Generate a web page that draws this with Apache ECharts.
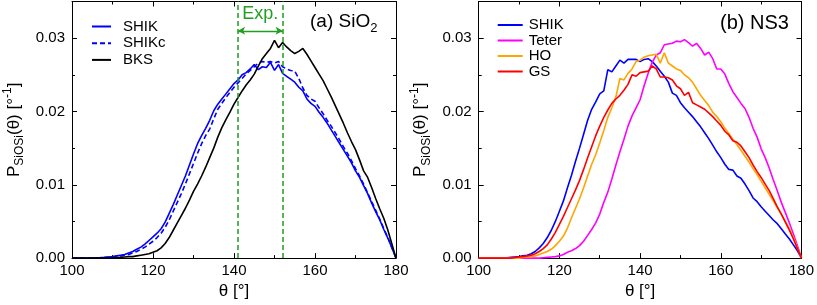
<!DOCTYPE html>
<html><head><meta charset="utf-8">
<script src="https://cdn.jsdelivr.net/npm/echarts@6/dist/echarts.min.js"></script>
<style>html,body{margin:0;padding:0;background:#fff}#c{width:817px;height:305px}</style>
</head><body><div id="c"></div>
<script>
// ---- data ----
const theta = [100,101,102,103,104,105,106,107,108,109,110,111,112,113,114,115,116,117,118,119,120,121,122,123,124,125,126,127,128,129,130,131,132,133,134,135,136,137,138,139,140,141,142,143,144,145,146,147,148,149,150,151,152,153,154,155,156,157,158,159,160,161,162,163,164,165,166,167,168,169,170,171,172,173,174,175,176,177,178,179,180];
// (a) SiO2
const sio2_SHIK = [0,0,0,0,0,0.00002,0.00004,0.00006,0.0001,0.00015,0.0002,0.0003,0.0004,0.0005,0.0007,0.0009,0.0012,0.0015,0.0019,0.0024,0.0029,0.0034,0.0040,0.0049,0.0061,0.0073,0.0086,0.0099,0.0112,0.0127,0.0142,0.0156,0.0167,0.0177,0.0188,0.0201,0.0210,0.0217,0.0224,0.0231,0.0238,0.0243,0.0250,0.0253,0.0258,0.0264,0.0257,0.0261,0.0260,0.0267,0.0256,0.0264,0.0252,0.0248,0.0244,0.0240,0.0233,0.0228,0.0217,0.0211,0.0207,0.0199,0.0192,0.0184,0.0175,0.0166,0.0157,0.0148,0.0139,0.0130,0.0119,0.0110,0.0099,0.0088,0.0075,0.0063,0.0052,0.0039,0.0027,0.0014,0];
const sio2_SHIKc = [0,0,0,0,0,0.00001,0.00002,0.00004,0.00006,0.0001,0.00014,0.0002,0.0003,0.0004,0.0005,0.0007,0.0009,0.0012,0.0015,0.0019,0.0023,0.0028,0.0034,0.0042,0.0052,0.0064,0.0076,0.0088,0.0101,0.0115,0.0129,0.0143,0.0156,0.0167,0.0176,0.0190,0.0203,0.0211,0.0219,0.0226,0.0233,0.0239,0.0245,0.0251,0.0256,0.0261,0.0266,0.0268,0.0267,0.0268,0.0266,0.0268,0.0261,0.0258,0.0256,0.0255,0.0245,0.0232,0.0222,0.0217,0.0214,0.0205,0.0197,0.0188,0.0180,0.0171,0.0162,0.0152,0.0143,0.0133,0.0122,0.0112,0.0101,0.0089,0.0077,0.0065,0.0053,0.0040,0.0028,0.0014,0];
const sio2_BKS = [0,0,0,0,0,0,0,0,0,0,0.00003,0.00006,0.0001,0.00015,0.0002,0.0002,0.0003,0.0004,0.0005,0.0006,0.0008,0.0010,0.0014,0.0020,0.0028,0.0038,0.0048,0.0058,0.0068,0.0079,0.0091,0.0101,0.0112,0.0124,0.0137,0.0150,0.0165,0.0178,0.0189,0.0199,0.0210,0.0219,0.0228,0.0236,0.0243,0.0251,0.0262,0.0272,0.0279,0.0286,0.0297,0.0287,0.0294,0.0288,0.0283,0.0279,0.0282,0.0286,0.0278,0.0269,0.0260,0.0251,0.0242,0.0231,0.0220,0.0208,0.0196,0.0184,0.0171,0.0159,0.0148,0.0134,0.0119,0.0110,0.0096,0.0081,0.0067,0.0054,0.0038,0.0019,0];
// (b) NS3
const ns3_SHIK = [0,0,0,0,0,0,0.00003,0.00005,0.0001,0.00015,0.0002,0.0003,0.0004,0.0006,0.0009,0.0014,0.0020,0.0028,0.0038,0.0050,0.0064,0.0078,0.0096,0.0113,0.0132,0.0150,0.0169,0.0188,0.0203,0.0213,0.0224,0.0228,0.0257,0.0254,0.0262,0.0270,0.0266,0.0271,0.0271,0.0271,0.0268,0.0271,0.0272,0.0268,0.0262,0.0255,0.0248,0.0240,0.0225,0.0222,0.0212,0.0205,0.0199,0.0193,0.0186,0.0179,0.0171,0.0163,0.0154,0.0145,0.0137,0.0128,0.0121,0.0120,0.0112,0.0109,0.0101,0.0092,0.0082,0.0077,0.0070,0.0064,0.0058,0.0052,0.0047,0.0040,0.0033,0.0026,0.0018,0.0010,0];
const ns3_Teter = [0,0,0,0,0,0,0,0,0,0,0,0,0,0,0,0,0.00005,0.0001,0.00015,0.0002,0.0003,0.0005,0.0008,0.0010,0.0013,0.0017,0.0023,0.0031,0.0039,0.0048,0.0060,0.0076,0.0090,0.0108,0.0127,0.0145,0.0162,0.0180,0.0194,0.0205,0.0216,0.0235,0.0252,0.0267,0.0277,0.0280,0.0291,0.0292,0.0293,0.0296,0.0295,0.0298,0.0294,0.0289,0.0293,0.0286,0.0277,0.0281,0.0272,0.0258,0.0258,0.0251,0.0238,0.0227,0.0219,0.0211,0.0204,0.0192,0.0177,0.0165,0.0149,0.0137,0.0123,0.0107,0.0092,0.0076,0.0062,0.0048,0.0033,0.0017,0];
const ns3_HO = [0,0,0,0,0,0,0,0,0,0,0,0.0001,0.0002,0.0002,0.0003,0.0005,0.0007,0.0009,0.0012,0.0017,0.0023,0.0030,0.0041,0.0055,0.0068,0.0081,0.0096,0.0112,0.0128,0.0141,0.0157,0.0174,0.0192,0.0205,0.0220,0.0245,0.0243,0.0252,0.0258,0.0268,0.0270,0.0274,0.0276,0.0277,0.0278,0.0266,0.0280,0.0266,0.0262,0.0258,0.0256,0.0250,0.0246,0.0240,0.0231,0.0222,0.0215,0.0208,0.0199,0.0193,0.0186,0.0177,0.0170,0.0162,0.0155,0.0147,0.0139,0.0131,0.0122,0.0114,0.0105,0.0096,0.0087,0.0078,0.0069,0.0060,0.0050,0.0040,0.0028,0.0014,0];
const ns3_GS = [0,0,0,0,0,0,0,0,0,0.0001,0.00015,0.0002,0.0003,0.0004,0.0006,0.0009,0.0013,0.0018,0.0026,0.0035,0.0046,0.0057,0.0069,0.0081,0.0093,0.0106,0.0121,0.0137,0.0152,0.0167,0.0180,0.0192,0.0202,0.0211,0.0217,0.0222,0.0229,0.0237,0.0250,0.0248,0.0253,0.0254,0.0255,0.0262,0.0258,0.0247,0.0247,0.0246,0.0243,0.0235,0.0231,0.0222,0.0226,0.0212,0.0209,0.0206,0.0203,0.0198,0.0193,0.0187,0.0181,0.0173,0.0168,0.0160,0.0158,0.0153,0.0145,0.0137,0.0127,0.0118,0.0110,0.0101,0.0092,0.0081,0.0070,0.0060,0.0049,0.0038,0.0026,0.0013,0];
const expRange = [141, 152];
const expArrowY = 0.031;
const xTicks = {min: 100, max: 180, interval: 20};
const yTicks = {min: 0, max: 0.035, interval: 0.01};

// ---- chart ----
const FONT = 'Liberation Sans, Arial, sans-serif';
const pairs = (ys) => theta.map((t, i) => [t, ys[i]]);
const chart = echarts.init(document.getElementById('c'), null, {renderer: 'canvas'});

function xAxes(gi) {
  const common = {type: 'value', gridIndex: gi, min: xTicks.min, max: xTicks.max, interval: xTicks.interval,
    splitLine: {show: false}, axisLine: {show: true, onZero: false, lineStyle: {color: '#000', width: 1}},
    axisTick: {show: true, inside: true, length: 5, lineStyle: {color: '#000'}},
    minorTick: {show: true, splitNumber: 2, length: 3, lineStyle: {color: '#000'}}};
  return [
    Object.assign({}, common, {position: 'bottom',
      axisLabel: {show: true, fontFamily: FONT, fontSize: 15, color: '#000', margin: 5},
      name: 'θ [°]', nameLocation: 'middle', nameGap: 22,
      nameTextStyle: {fontFamily: FONT, fontSize: 17, color: '#000'}}),
    Object.assign({}, common, {position: 'top', axisLabel: {show: false}})
  ];
}
function yAxes(gi) {
  const common = {type: 'value', gridIndex: gi, min: yTicks.min, max: yTicks.max, interval: yTicks.interval,
    splitLine: {show: false}, axisLine: {show: true, onZero: false, lineStyle: {color: '#000', width: 1}},
    axisTick: {show: true, inside: true, length: 5, lineStyle: {color: '#000'}},
    minorTick: {show: true, splitNumber: 2, length: 3, lineStyle: {color: '#000'}}};
  return [
    Object.assign({}, common, {position: 'left',
      axisLabel: {show: true, fontFamily: FONT, fontSize: 15, color: '#000', margin: 7, showMaxLabel: false,
        formatter: (v) => v.toFixed(2)},
      name: '{p|P}{s|SiOSi}{p|(θ) [°}{sup|-1}{p|]}', nameLocation: 'middle', nameGap: 46,
      nameTextStyle: {fontFamily: FONT, color: '#000',
        rich: {
          p: {fontFamily: FONT, fontSize: 17, color: '#000', lineHeight: 24, verticalAlign: 'middle'},
          s: {fontFamily: FONT, fontSize: 12, color: '#000', lineHeight: 12, verticalAlign: 'bottom'},
          sup: {fontFamily: FONT, fontSize: 12, color: '#000', lineHeight: 12, verticalAlign: 'top'}
        }}}),
    Object.assign({}, common, {position: 'right', axisLabel: {show: false}})
  ];
}

const lineSeries = (name, data, color, xi, yi, dashed) => ({
  type: 'line', name: name, data: pairs(data), xAxisIndex: xi, yAxisIndex: yi,
  showSymbol: false, symbol: 'none', animation: false, z: 3,
  lineStyle: {color: color, width: 1.6, type: dashed ? [5, 3] : 'solid'},
  itemStyle: {color: color}
});

const GREEN = '#1f9e1f';
const legendText = {fontFamily: FONT, fontSize: 15, color: '#000', lineHeight: 16};
const option = {
  animation: false,
  backgroundColor: '#fff',
  grid: [
    {left: 72, top: 1.5, width: 324, height: 260.2, containLabel: false},
    {left: 478.7, top: 1.5, width: 324.6, height: 260.2, containLabel: false}
  ],
  xAxis: [...xAxes(0), ...xAxes(1)],
  yAxis: [...yAxes(0), ...yAxes(1)],
  legend: [
    {orient: 'vertical', left: 91, top: 18.5, padding: 0, itemWidth: 19, itemHeight: 2, itemGap: 0.7,
      data: ['SHIK', 'SHIKc', 'BKS'], selectedMode: false, itemStyle: {opacity: 0},
      textStyle: Object.assign({}, legendText, {padding: [0, 0, 0, 7]})},
    {orient: 'vertical', left: 496.7, top: 17, padding: 0, itemWidth: 25, itemHeight: 2, itemGap: -0.5,
      data: ['SHIK', 'Teter', 'HO', 'GS'], selectedMode: false, itemStyle: {opacity: 0},
      textStyle: Object.assign({}, legendText, {padding: [0, 0, 0, 1]})}
  ],
  series: [
    lineSeries('SHIK', sio2_SHIK, '#0000ff', 0, 0, false),
    lineSeries('SHIKc', sio2_SHIKc, '#0000ff', 0, 0, true),
    lineSeries('BKS', sio2_BKS, '#000000', 0, 0, false),
    {type: 'line', name: 'expLines', data: [], xAxisIndex: 0, yAxisIndex: 0, silent: true,
      markLine: {silent: true, symbol: 'none', animation: false,
        label: {show: false}, lineStyle: {color: GREEN, type: [5, 3], width: 1.5},
        data: [{xAxis: expRange[0]}, {xAxis: expRange[1]}]}},
    {type: 'line', name: 'expArrow', data: [], xAxisIndex: 0, yAxisIndex: 0, silent: true,
      markLine: {silent: true, symbol: ['arrow', 'arrow'], symbolSize: [6, 7], animation: false,
        label: {show: false}, lineStyle: {color: GREEN, type: 'solid', width: 1.3},
        data: [[{coord: [expRange[0], expArrowY]}, {coord: [expRange[1], expArrowY]}]]}},
    lineSeries('SHIK', ns3_SHIK, '#0000ff', 2, 2, false),
    lineSeries('Teter', ns3_Teter, '#ff00ff', 2, 2, false),
    lineSeries('HO', ns3_HO, '#ffa500', 2, 2, false),
    lineSeries('GS', ns3_GS, '#ff0000', 2, 2, false)
  ]
};
chart.setOption(option);

const expPos = chart.convertToPixel({gridIndex: 0}, [(expRange[0] + expRange[1]) / 2, 0.0333]);
chart.setOption({
  graphic: [
    {type: 'text', left: 310, top: 12, silent: true,
      style: {text: '{a|(a) SiO}{s|2}', fontFamily: FONT,
        rich: {a: {fontFamily: FONT, fontSize: 19, color: '#000', lineHeight: 26, verticalAlign: 'middle'},
               s: {fontFamily: FONT, fontSize: 13, color: '#000', lineHeight: 13, verticalAlign: 'bottom'}}}},
    {type: 'text', left: 720, top: 13, silent: true,
      style: {text: '(b) NS3', fontFamily: FONT, fontSize: 20, fill: '#000'}},
    {type: 'text', x: expPos[0], y: expPos[1], silent: true,
      style: {text: 'Exp.', fontFamily: FONT, fontSize: 18, fill: GREEN, align: 'center', verticalAlign: 'middle'}}
  ]
});
</script>
</body></html>
